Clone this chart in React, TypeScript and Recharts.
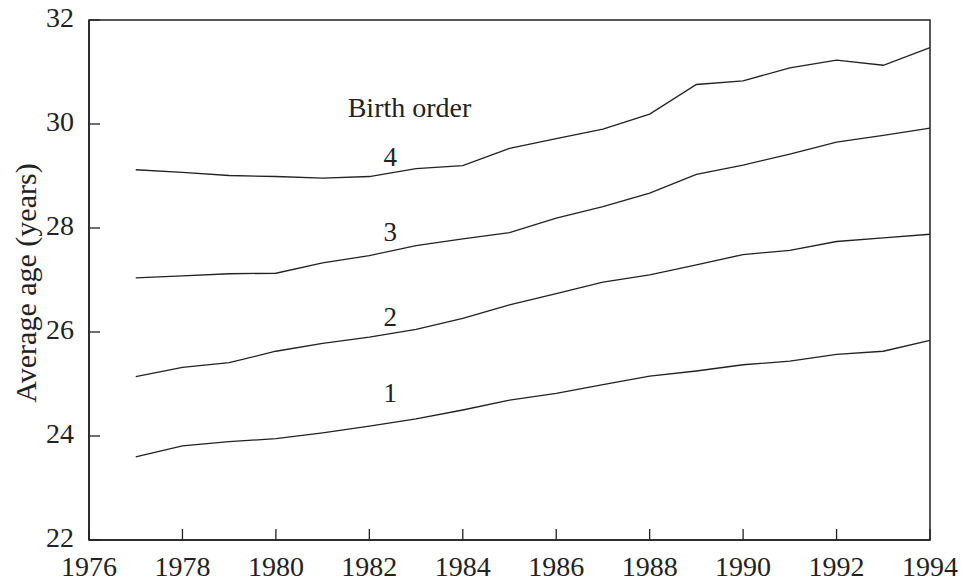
import {
  LineChart,
  Line,
  XAxis,
  YAxis,
  ReferenceArea,
  ReferenceDot
} from "recharts";

const years = [1977, 1978, 1979, 1980, 1981, 1982, 1983, 1984, 1985, 1986, 1987, 1988, 1989, 1990, 1991, 1992, 1993, 1994];
const order1 = [23.6, 23.81, 23.89, 23.95, 24.06, 24.19, 24.33, 24.5, 24.69, 24.82, 24.99, 25.15, 25.25, 25.37, 25.44, 25.57, 25.63, 25.84];
const order2 = [25.14, 25.32, 25.41, 25.63, 25.78, 25.9, 26.05, 26.26, 26.52, 26.74, 26.96, 27.1, 27.29, 27.49, 27.57, 27.74, 27.81, 27.88];
const order3 = [27.04, 27.08, 27.12, 27.13, 27.33, 27.47, 27.66, 27.79, 27.91, 28.19, 28.41, 28.67, 29.03, 29.21, 29.42, 29.65, 29.78, 29.92];
const order4 = [29.12, 29.07, 29.01, 28.99, 28.96, 28.99, 29.14, 29.2, 29.53, 29.72, 29.9, 30.19, 30.76, 30.83, 31.08, 31.23, 31.13, 31.47];

const xTicks = [1976, 1978, 1980, 1982, 1984, 1986, 1988, 1990, 1992, 1994];
const yTicks = [22, 24, 26, 28, 30, 32];

// curve labels, placed in data coordinates
const labels = [
  { text: "Birth order", x: 1982.86, y: 30.31, size: 28 },
  { text: "4", x: 1982.45, y: 29.37, size: 27 },
  { text: "3", x: 1982.45, y: 27.93, size: 27 },
  { text: "2", x: 1982.45, y: 26.29, size: 27 },
  { text: "1", x: 1982.45, y: 24.83, size: 27 }
];

const FONT = "Liberation Serif, DejaVu Serif, serif";
const INK = "#222";

const data = years.map((year, i) => ({
  year,
  o1: order1[i],
  o2: order2[i],
  o3: order3[i],
  o4: order4[i]
}));

const YTick = ({ x, y, payload }: any) => (
  <g>
    <line x1={x} y1={y} x2={x + 11} y2={y} stroke={INK} strokeWidth={1.3} />
    <text x={x - 15} y={y + 7} textAnchor="end" style={{ fontFamily: FONT, fontSize: 28 }} fill={INK}>
      {payload.value}
    </text>
  </g>
);

const XTick = ({ x, y, payload }: any) => (
  <g>
    <line x1={x} y1={y} x2={x} y2={y - 11} stroke={INK} strokeWidth={1.3} />
    <text x={x} y={y + 36} textAnchor="middle" style={{ fontFamily: FONT, fontSize: 28 }} fill={INK}>
      {payload.value}
    </text>
  </g>
);

export default function App() {
  return (
    <div
      style={{
        position: "absolute",
        left: 0,
        top: 0,
        width: 965,
        height: 581,
        background: "#fff",
        fontFamily: FONT
      }}
    >
      <LineChart width={965} height={581} data={data} margin={{ top: 20, right: 35, bottom: 0, left: 0 }}>
        <XAxis
          dataKey="year"
          type="number"
          domain={[1976, 1994]}
          ticks={xTicks}
          height={41}
          tickSize={0}
          tickMargin={0}
          tickLine={false}
          axisLine={{ stroke: INK, strokeWidth: 1.5 }}
          tick={<XTick />}
        />
        <YAxis
          type="number"
          domain={[22, 32]}
          ticks={yTicks}
          width={89}
          tickSize={0}
          tickMargin={0}
          tickLine={false}
          axisLine={{ stroke: INK, strokeWidth: 1.5 }}
          tick={<YTick />}
          label={{
            value: "Average age (years)",
            position: "insideLeft",
            content: ({ viewBox }: any) => {
              const cy = viewBox.y + viewBox.height / 2 + 3;
              return (
                <text
                  x={25}
                  y={cy}
                  transform={`rotate(-90, 25, ${cy})`}
                  textAnchor="middle"
                  dominantBaseline="central"
                  style={{ fontFamily: FONT, fontSize: 30 }}
                  fill={INK}
                >
                  Average age (years)
                </text>
              );
            }
          }}
        />
        <ReferenceArea x1={1976} x2={1994} y1={22} y2={32} fill="none" stroke={INK} strokeWidth={1.5} />
        <Line dataKey="o1" stroke={INK} strokeWidth={1.3} dot={false} isAnimationActive={false} />
        <Line dataKey="o2" stroke={INK} strokeWidth={1.3} dot={false} isAnimationActive={false} />
        <Line dataKey="o3" stroke={INK} strokeWidth={1.3} dot={false} isAnimationActive={false} />
        <Line dataKey="o4" stroke={INK} strokeWidth={1.3} dot={false} isAnimationActive={false} />
        {labels.map((l) => (
          <ReferenceDot
            key={l.text}
            x={l.x}
            y={l.y}
            r={0}
            shape={(p: any) => (
              <text
                x={p.cx}
                y={p.cy}
                textAnchor="middle"
                dominantBaseline="central"
                style={{ fontFamily: FONT, fontSize: l.size }}
                fill={INK}
              >
                {l.text}
              </text>
            )}
          />
        ))}
      </LineChart>
    </div>
  );
}
